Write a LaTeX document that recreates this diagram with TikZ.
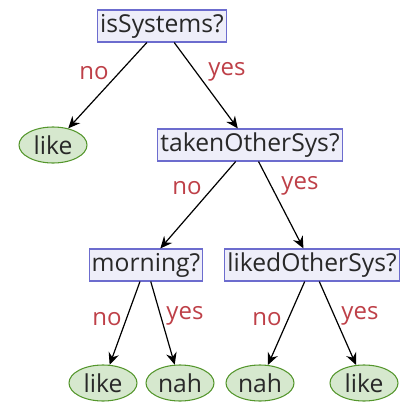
\documentclass[tikz,border=0pt]{standalone}
\usepackage{fontspec}
\setmainfont{Open Sans}
\usepackage{tikz}
\usetikzlibrary{arrows.meta}
\usetikzlibrary{shapes.geometric}
\definecolor{qborder}{RGB}{108,108,206}
\definecolor{qfill}{RGB}{238,238,249}
\definecolor{lborder}{RGB}{84,150,44}
\definecolor{lfill}{RGB}{214,232,206}
\definecolor{ansred}{RGB}{190,64,72}
\definecolor{ink}{RGB}{40,40,40}
\tikzset{
	question/.style={draw=qborder, fill=qfill, thick, rectangle, inner sep=2pt, minimum height=24pt, text=ink},
	leaf/.style={draw=lborder, fill=lfill, thick, ellipse, inner sep=0pt, minimum width=51pt, minimum height=27pt, text=ink},
	answer/.style={ansred, font=\fontsize{18}{21}\selectfont},
	branch/.style={line width=0.9pt, -{Stealth[length=9pt, width=8pt, inset=3pt]}}
}

\begin{document}
\begin{tikzpicture}[x=0.75pt, y=-0.75pt, font=\fontsize{18.5}{22}\selectfont]
	\useasboundingbox (0,0) rectangle (407,407);
	% questions
	\node[question] (sys) at (162,26) {isSystems?};
	\node[question] (taken) at (250,145) {takenOtherSys?};
	\node[question] (morning) at (146,265) {morning?};
	\node[question] (liked) at (312,265) {likedOtherSys?};
	% leaves
	\node[leaf] (like1) at (53,145) {like};
	\node[leaf] (like2) at (103,383) {like};
	\node[leaf] (nah1) at (180,383) {nah};
	\node[leaf] (nah2) at (260,383) {nah};
	\node[leaf] (like3) at (364,383) {like};
	% branches
	\draw[branch] (sys) -- (like1);
	\draw[branch] (sys) -- (taken);
	\draw[branch] (taken) -- (morning);
	\draw[branch] (taken) -- (liked);
	\draw[branch] (morning) -- (like2);
	\draw[branch] (morning) -- (nah1);
	\draw[branch] (liked) -- (nah2);
	\draw[branch] (liked) -- (like3);
	% answers
	\node[answer] (a1) at (94,73) {no};
	\node[answer] (a2) at (227,72) {yes};
	\node[answer] (a3) at (187,188) {no};
	\node[answer] (a4) at (300,186) {yes};
	\node[answer] (a5) at (107,319) {no};
	\node[answer] (a6) at (185,316) {yes};
	\node[answer] (a7) at (267,319) {no};
	\node[answer] (a8) at (360,316) {yes};
\end{tikzpicture}
\end{document}
